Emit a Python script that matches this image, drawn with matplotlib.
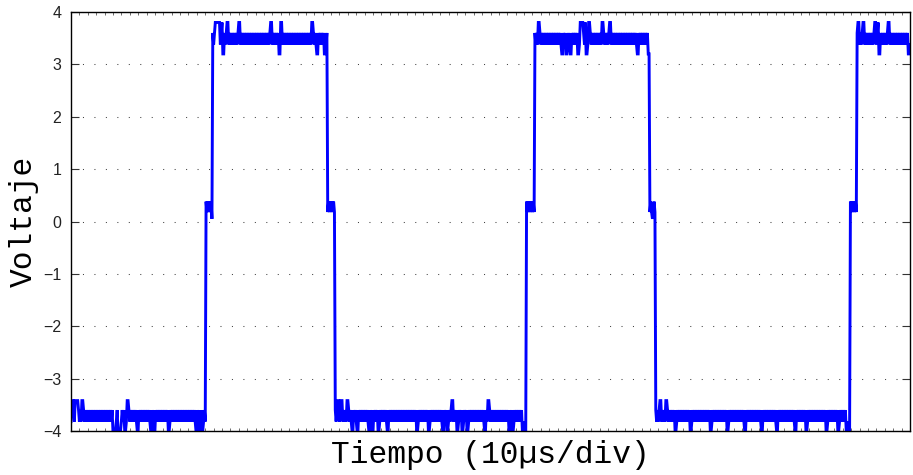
import numpy as np
import matplotlib
matplotlib.use("Agg")
import matplotlib.pyplot as plt

# ---- waveform description (time in microseconds, voltage in volts) ----
# switching instants: low->step, step->high, high->step, step->low, ...
edge_times = [16.1, 16.9, 30.6, 31.5, 54.3, 55.3, 69.0, 69.7, 92.8, 93.7]

# quantised levels the trace flickers between on each plateau
high_levels = [3.38, 3.60]
low_levels = [-3.82, -3.60]
step_levels = [0.18, 0.38]

# isolated glitches on the high plateaus
high_spike_up_t = [17.2, 17.4, 17.6, 18.0, 18.6, 20.0, 23.8, 25.0, 28.7,
                   55.7, 60.7, 60.9, 61.3, 61.7, 63.3, 64.2,
                   93.8, 94.4, 95.8, 96.2, 97.4]
high_spike_down_t = [18.1, 24.8, 29.3, 30.2,
                     58.5, 59.0, 59.5, 60.4, 61.4, 67.5, 68.8,
                     96.3, 99.8]
high_spike_up_v = 3.80
high_spike_down_v = 3.20

# isolated glitches on the low plateaus
low_spike_up_t = [0.2, 0.5, 0.7, 1.3, 6.7,
                  31.8, 32.2, 32.9, 45.4, 49.7,
                  70.2, 70.9]
low_spike_down_t = [5.0, 5.2, 5.6, 5.8, 6.4, 7.9, 9.5, 9.9, 11.6, 14.9, 15.3, 15.6,
                    33.5, 34.1, 35.5, 35.9, 36.6, 37.7, 41.2, 42.6, 44.3, 44.8,
                    46.0, 46.6, 47.2, 49.3, 52.2, 52.6, 53.8, 54.1,
                    72.0, 73.8, 76.2, 78.2, 80.3, 82.3, 84.1, 86.3, 87.6,
                    90.0, 91.4, 92.4, 92.7]
low_spike_up_v = -3.42
low_spike_down_v = -4.00

# short dips while the trace sits on the intermediate step
step_dip_t = [16.8, 69.3]
step_dip_v = 0.05

y_ticks = [-4, -3, -2, -1, 0, 1, 2, 3, 4]

# ---- build the sampled trace ----
dt = 0.1
t = np.round(np.arange(0.0, 100.0 + dt / 2, dt), 4)
k = np.searchsorted(edge_times, t, side="right")
parity = np.arange(t.size) % 2

v = np.empty_like(t)
is_low = (k % 4) == 0
is_high = (k % 4) == 2
is_step = (k % 2) == 1
v[is_low] = np.take(low_levels, parity[is_low])
v[is_high] = np.take(high_levels, parity[is_high])
v[is_step] = np.take(step_levels, parity[is_step])


def put(times, value, width=2):
    # each glitch holds its value for a couple of samples
    start = np.round(np.asarray(times) / dt).astype(int)
    for w in range(width):
        idx = np.clip(start + w, 0, t.size - 1)
        v[idx] = value


put(high_spike_up_t, high_spike_up_v)
put(high_spike_down_t, high_spike_down_v)
put(low_spike_up_t, low_spike_up_v)
put(low_spike_down_t, low_spike_down_v)
put(step_dip_t, step_dip_v, width=1)

# ---- figure ----
fig = plt.figure(figsize=(9.13, 4.75), dpi=100)
ax = fig.add_axes([71 / 913, 1 - 431 / 475, 839 / 913, 419 / 475])

ax.plot(t, v, color=(0, 0, 1), linewidth=2.1, solid_joinstyle="miter")

ax.set_xlim(0, 100)
ax.set_ylim(-4, 4)
ax.set_yticks(y_ticks)
ax.set_yticklabels([str(y).replace("-", "\u2212") for y in y_ticks],
                   fontsize=11.5, color="#222222", family="Liberation Sans")
ax.set_xticks(np.arange(0, 101, 1))
ax.set_xticklabels([])

ax.tick_params(axis="y", direction="in", length=6, width=0.8, color="#333333",
               right=True, pad=7)
ax.tick_params(axis="x", direction="in", length=2, width=0.6, color="#555555",
               top=True)

for sp in ax.spines.values():
    sp.set_linewidth(1.0)
    sp.set_color("black")

ax.grid(axis="y", color="#444444", linewidth=0.75, linestyle=(0, (1.0, 10.0)))
ax.set_axisbelow(True)

ax.set_xlabel("Tiempo (10\u00b5s/div)", fontsize=22.5, family="Liberation Mono",
              labelpad=3)
ax.set_ylabel("Voltaje", fontsize=22.5, family="Liberation Mono", labelpad=3)

fig.savefig("out.png", dpi=100)
